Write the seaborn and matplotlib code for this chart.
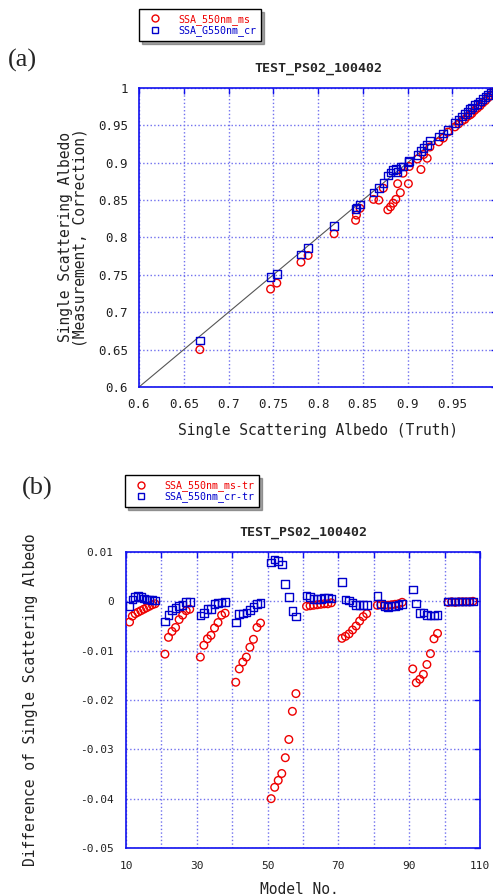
import numpy as np
import pandas as pd
import matplotlib
matplotlib.use('Agg')
import matplotlib.pyplot as plt
import seaborn as sns
from matplotlib.lines import Line2D

# ---- data: panel (a) ----
truth = [0.668, 0.747, 0.754, 0.781, 0.789, 0.818, 0.842, 0.843, 0.847, 0.862,
         0.868, 0.873, 0.878, 0.881, 0.884, 0.887, 0.889, 0.892, 0.895, 0.901,
         0.902, 0.911, 0.915, 0.918, 0.922, 0.925, 0.935, 0.940, 0.945, 0.953,
         0.957, 0.961, 0.964, 0.967, 0.970, 0.972, 0.975, 0.978, 0.981, 0.984,
         0.987, 0.990, 0.993, 0.996, 0.999]
ssa_ms = [0.650, 0.731, 0.739, 0.767, 0.776, 0.805, 0.823, 0.830, 0.839, 0.851,
          0.850, 0.866, 0.837, 0.841, 0.846, 0.851, 0.872, 0.860, 0.886, 0.872,
          0.895, 0.905, 0.891, 0.911, 0.906, 0.921, 0.928, 0.933, 0.941, 0.948,
          0.952, 0.956, 0.958, 0.962, 0.964, 0.966, 0.970, 0.973, 0.976, 0.980,
          0.983, 0.987, 0.990, 0.994, 0.998]
ssa_cr = [0.662, 0.747, 0.751, 0.777, 0.786, 0.815, 0.838, 0.840, 0.844, 0.860,
          0.866, 0.873, 0.883, 0.887, 0.890, 0.892, 0.888, 0.895, 0.895, 0.901,
          0.902, 0.910, 0.916, 0.920, 0.924, 0.930, 0.935, 0.939, 0.944, 0.953,
          0.957, 0.962, 0.965, 0.968, 0.972, 0.974, 0.977, 0.979, 0.982, 0.985,
          0.988, 0.991, 0.994, 0.997, 1.000]

# ---- data: panel (b) ----
model_no = [11, 11.8, 12.6, 13.4, 14.2, 15, 15.8, 16.6, 17.4, 18.2,
            21, 22, 23, 24, 25, 26, 27, 28,
            31, 32, 33, 34, 35, 36, 37, 38,
            41, 42, 43, 44, 45, 46, 47, 48,
            51, 52, 53, 54, 55, 56, 57, 58,
            61, 62, 63, 64, 65, 66, 67, 68,
            71, 72, 73, 74, 75, 76, 77, 78,
            81, 82, 83, 84, 85, 86, 87, 88,
            91, 92, 93, 94, 95, 96, 97, 98,
            101, 102, 103, 104, 105, 106, 107, 108]
diff_ms = [-0.0042, -0.0030, -0.0025, -0.0022, -0.0019, -0.0016, -0.0013, -0.0010, -0.0007, -0.0005,
           -0.0107, -0.0073, -0.0061, -0.0053, -0.0037, -0.0028, -0.0019, -0.0016,
           -0.0113, -0.0089, -0.0076, -0.0069, -0.0054, -0.0043, -0.0028, -0.0024,
           -0.0164, -0.0137, -0.0123, -0.0113, -0.0093, -0.0077, -0.0053, -0.0044,
           -0.0400, -0.0377, -0.0363, -0.0349, -0.0317, -0.0280, -0.0223, -0.0187,
           -0.0010, -0.0009, -0.0008, -0.0007, -0.0006, -0.0005, -0.0005, -0.0003,
           -0.0075, -0.0071, -0.0066, -0.0058, -0.0050, -0.0040, -0.0031, -0.0025,
           -0.0008, -0.0007, -0.0008, -0.0008, -0.0007, -0.0006, -0.0005, -0.0002,
           -0.0137, -0.0165, -0.0158, -0.0148, -0.0128, -0.0106, -0.0076, -0.0065,
           -0.0002, -0.0001, -0.0002, -0.0001, -0.0001, -0.0001, -0.0001, 0.0000]
diff_cr = [-0.0009, 0.0004, 0.0009, 0.0011, 0.0009, 0.0006, 0.0004, 0.0004, 0.0003, 0.0002,
           -0.0041, -0.0028, -0.0017, -0.0013, -0.0010, -0.0007, -0.0001, -0.0001,
           -0.0029, -0.0024, -0.0016, -0.0015, -0.0006, -0.0003, -0.0002, -0.0001,
           -0.0043, -0.0026, -0.0025, -0.0023, -0.0017, -0.0011, -0.0006, -0.0003,
           0.0079, 0.0085, 0.0082, 0.0075, 0.0035, 0.0009, -0.0020, -0.0031,
           0.0012, 0.0009, 0.0005, 0.0005, 0.0005, 0.0007, 0.0008, 0.0006,
           0.0039, 0.0004, 0.0002, -0.0002, -0.0008, -0.0008, -0.0008, -0.0008,
           0.0011, -0.0006, -0.0010, -0.0011, -0.0010, -0.0009, -0.0008, -0.0005,
           0.0024, -0.0004, -0.0024, -0.0023, -0.0028, -0.0029, -0.0029, -0.0028,
           0.0000, 0.0000, 0.0000, 0.0000, 0.0000, 0.0000, 0.0000, 0.0000]

RED = '#ee0000'
BLUE = '#0000cc'
SPINE = '#1010ee'
GRID = '#7070ee'

sns.set_style('white')
plt.rcParams['font.family'] = ['DejaVu Sans Mono']

fig = plt.figure(figsize=(4.93, 8.96), dpi=100)

W, H = 493.0, 896.0
ax1 = fig.add_axes([139 / W, 1 - 387 / H, 358 / W, 299 / H])
ax2 = fig.add_axes([126 / W, 1 - 848 / H, 354 / W, 296 / H])


def style_axes(ax):
    for sp in ax.spines.values():
        sp.set_color(SPINE)
        sp.set_linewidth(1.2)
    ax.grid(True, color=GRID, linestyle=':', linewidth=1.0)
    ax.tick_params(direction='in', color=SPINE, length=4, width=1,
                   labelcolor='#222222', top=True, right=True)


# ---- panel (a) ----
dfa = pd.DataFrame({'truth': truth, 'ms': ssa_ms, 'cr': ssa_cr})
ax1.axline((0.6, 0.6), slope=1, color='#555555', linewidth=0.8, zorder=1)
sns.scatterplot(data=dfa, x='truth', y='ms', ax=ax1, marker='o', s=30,
                facecolor='none', edgecolor=RED, linewidth=1.0, zorder=3)
sns.scatterplot(data=dfa, x='truth', y='cr', ax=ax1, marker='s', s=30,
                facecolor='none', edgecolor=BLUE, linewidth=1.0, zorder=4)
ax1.set_xlim(0.6, 1.0)
ax1.set_ylim(0.6, 1.0)
xt = [0.6, 0.65, 0.7, 0.75, 0.8, 0.85, 0.9, 0.95]
ax1.set_xticks(xt)
ax1.set_xticklabels(['0.6', '0.65', '0.7', '0.75', '0.8', '0.85', '0.9', '0.95'])
yt = [0.6, 0.65, 0.7, 0.75, 0.8, 0.85, 0.9, 0.95, 1.0]
ax1.set_yticks(yt)
ax1.set_yticklabels(['0.6', '0.65', '0.7', '0.75', '0.8', '0.85', '0.9', '0.95', '1'])
style_axes(ax1)
ax1.tick_params(labelsize=9, pad=8)
ax1.set_title('TEST_PS02_100402', fontsize=9.5, fontweight='bold', pad=12)
ax1.set_xlabel('Single Scattering Albedo (Truth)', fontsize=10.5, color='#222222')
ax1.set_ylabel('Single Scattering Albedo\n(Measurement, Correction)', fontsize=10.5,
               color='#222222', linespacing=0.9)
ax1.xaxis.set_label_coords(0.5, -0.12)
ax1.yaxis.set_label_coords(-0.145, 0.5)

# ---- panel (b) ----
dfb = pd.DataFrame({'model': model_no, 'ms': diff_ms, 'cr': diff_cr})
sns.scatterplot(data=dfb, x='model', y='ms', ax=ax2, marker='o', s=30,
                facecolor='none', edgecolor=RED, linewidth=1.0, zorder=3)
sns.scatterplot(data=dfb, x='model', y='cr', ax=ax2, marker='s', s=30,
                facecolor='none', edgecolor=BLUE, linewidth=1.0, zorder=4)
ax2.set_xlim(10, 110)
ax2.set_ylim(-0.05, 0.01)
ax2.set_xticks(np.arange(10, 111, 10))
ax2.set_xticklabels(['10', '', '30', '', '50', '', '70', '', '90', '', '110'])
ax2.set_yticks([0.01, 0, -0.01, -0.02, -0.03, -0.04, -0.05])
ax2.set_yticklabels(['0.01', '0', '-0.01', '-0.02', '-0.03', '-0.04', '-0.05'])
style_axes(ax2)
ax2.tick_params(labelsize=8, pad=9)
ax2.set_title('TEST_PS02_100402', fontsize=9.5, fontweight='bold', pad=12)
ax2.set_xlabel('Model No.', fontsize=10.5, color='#222222')
ax2.set_ylabel('Difference of Single Scattering Albedo', fontsize=10.5, color='#222222')
ax2.xaxis.set_label_coords(0.49, -0.115)
ax2.yaxis.set_label_coords(-0.25, 0.5)

# ---- legends ----
def add_legend(labels, anchor):
    handles = [
        Line2D([], [], marker='o', linestyle='none', markerfacecolor='none',
               markeredgecolor=RED, markersize=5, markeredgewidth=1),
        Line2D([], [], marker='s', linestyle='none', markerfacecolor='none',
               markeredgecolor=BLUE, markersize=5, markeredgewidth=1),
    ]
    leg = fig.legend(handles, labels, loc='upper left', bbox_to_anchor=anchor,
                     bbox_transform=fig.transFigure, frameon=True, fancybox=False,
                     shadow=True, edgecolor='black', fontsize=7.2,
                     handletextpad=1.2, labelspacing=0.05, borderpad=0.5,
                     handlelength=2.2, borderaxespad=0)
    leg.get_frame().set_linewidth(1.0)
    for txt, c in zip(leg.get_texts(), [RED, BLUE]):
        txt.set_color(c)
    return leg


add_legend(['SSA_550nm_ms', 'SSA_G550nm_cr'], (139 / W, 1 - 9 / H))
add_legend(['SSA_550nm_ms-tr', 'SSA_550nm_cr-tr'], (125 / W, 1 - 475 / H))

fig.text(8 / W, 1 - 60 / H, '(a)', fontsize=19, family=['Liberation Serif'],
         va='center', ha='left')
fig.text(22 / W, 1 - 488 / H, '(b)', fontsize=19, family=['Liberation Serif'],
         va='center', ha='left')

fig.savefig('out.png', dpi=100)
